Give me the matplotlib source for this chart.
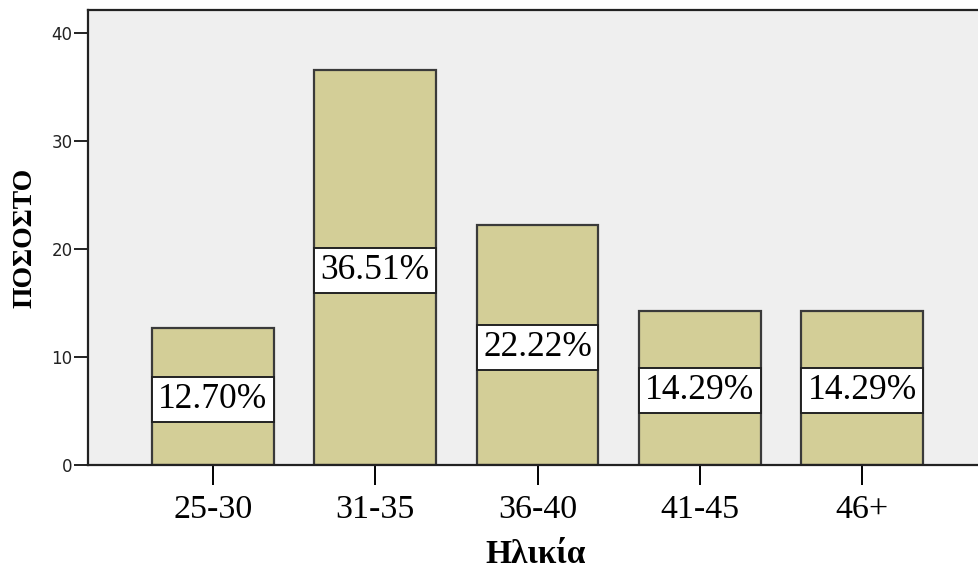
import matplotlib
matplotlib.use("Agg")
import matplotlib.pyplot as plt
from matplotlib.patches import Rectangle

# Age groups and their share of respondents (%)
age_groups = ["25-30", "31-35", "36-40", "41-45", "46+"]
percentages = [12.70, 36.51, 22.22, 14.29, 14.29]
y_ticks = [0, 10, 20, 30, 40]

bar_color = "#d3ce97"
edge_color = "#3a3a3a"
bg_color = "#efefef"
serif = ["Liberation Serif", "DejaVu Serif"]

fig = plt.figure(figsize=(9.79, 5.70), dpi=100)
ax = fig.add_axes([0.0899, 0.184, 0.915, 0.7985])
ax.set_facecolor(bg_color)

positions = list(range(len(age_groups)))
bar_width = 0.75
ax.bar(positions, percentages, width=bar_width, color=bar_color,
       edgecolor=edge_color, linewidth=1.6, zorder=2)

# White value boxes placed around the middle of each bar
box_h = 4.15
for x, v in zip(positions, percentages):
    yc = v / 2 - 0.27
    ax.add_patch(Rectangle((x - bar_width / 2, yc - box_h / 2), bar_width, box_h,
                           facecolor="white", edgecolor="#222222", linewidth=1.4, zorder=3))
    ax.text(x, yc, f"{v:.2f}%", ha="center", va="center",
            fontsize=25.5, family=serif, color="black", zorder=4)

ax.set_xlim(-0.77, 4.75)
ax.set_ylim(0, 42.1)
ax.set_yticks(y_ticks)
ax.set_yticklabels([str(t) for t in y_ticks], fontsize=12, color="#222222",
                   family="DejaVu Sans")
ax.set_xticks(positions)
ax.set_xticklabels(age_groups, fontsize=24.5, family=serif)

ax.tick_params(axis="y", direction="out", length=10, width=1.4, pad=1, colors="#222222")
ax.tick_params(axis="x", direction="out", length=14.5, width=1.4, pad=7)

for side in ["left", "bottom", "top"]:
    ax.spines[side].set_linewidth(1.6)
    ax.spines[side].set_color("#222222")
ax.spines["right"].set_visible(False)

ax.set_ylabel("ΠΟΣΟΣΤΟ", fontsize=20, fontweight="bold", family=serif, labelpad=10)
ax.set_xlabel("Ηλικία", fontsize=24, fontweight="bold", family=serif, labelpad=10)

fig.savefig("out.png", dpi=100)
